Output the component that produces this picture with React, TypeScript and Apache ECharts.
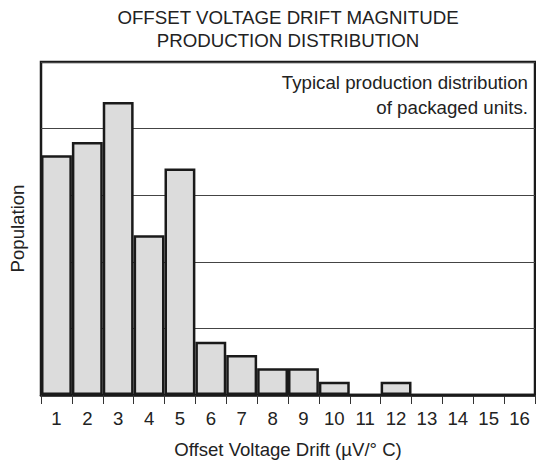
import React, { useEffect, useRef } from "react";
import * as echarts from "echarts";

const categories = ["1", "2", "3", "4", "5", "6", "7", "8", "9", "10", "11", "12", "13", "14", "15", "16"];
const population = [3.6, 3.8, 4.4, 2.4, 3.4, 0.8, 0.6, 0.4, 0.4, 0.2, 0, 0.2, 0, 0, 0, 0];
const titleLines = ["OFFSET VOLTAGE DRIFT MAGNITUDE", "PRODUCTION DISTRIBUTION"];
const noteLines = ["Typical production distribution", "of packaged units."];
const xName = "Offset Voltage Drift (µV/° C)";
const yName = "Population";

const FONT = "'Liberation Sans', Arial, Helvetica, sans-serif";
const TXT = "#222";
const FS = 18.7;

export default function App() {
  const ref = useRef<HTMLDivElement>(null);
  useEffect(() => {
    if (!ref.current) return;
    const chart = echarts.init(ref.current, null, { renderer: "svg" });
    const txt = (text: string, x: number, y: number, align: string) => ({
      type: "text",
      x,
      y,
      style: {
        text,
        fontSize: FS,
        fontFamily: FONT,
        fill: TXT,
        textAlign: align,
        textVerticalAlign: "middle",
      },
    });
    chart.setOption({
      animation: false,
      backgroundColor: "#fff",
      textStyle: { fontFamily: FONT },
      grid: {
        left: 40,
        right: 1,
        top: 62,
        bottom: 65,
        show: true,
        borderColor: "#1a1a1a",
        borderWidth: 2.5,
        backgroundColor: "transparent",
      },
      xAxis: {
        type: "category",
        data: categories,
        boundaryGap: true,
        name: xName,
        nameLocation: "middle",
        nameGap: 45,
        nameTextStyle: { fontSize: 18.6, color: TXT, fontFamily: FONT },
        axisLine: { show: true, lineStyle: { color: "#1a1a1a", width: 2.5 } },
        axisTick: { show: true, length: 9, lineStyle: { color: "#333", width: 1 } },
        axisLabel: { fontSize: 18.6, color: TXT, margin: 14, fontFamily: FONT, interval: 0 },
        splitLine: { show: false },
      },
      yAxis: {
        type: "value",
        min: 0,
        max: 5,
        interval: 1,
        name: yName,
        nameLocation: "middle",
        nameGap: 14,
        nameTextStyle: { fontSize: 18.6, color: TXT, fontFamily: FONT },
        axisLine: { show: false },
        axisTick: { show: false },
        axisLabel: { show: false },
        splitLine: { show: true, lineStyle: { color: "#444", width: 1 } },
      },
      series: [
        {
          type: "bar",
          data: population,
          barCategoryGap: "0%",
          itemStyle: { color: "#dcdcdc", borderColor: "#1a1a1a", borderWidth: 2.5 },
        },
      ],
      graphic: [
        txt(titleLines[0], 288, 17, "center"),
        txt(titleLines[1], 288, 40, "center"),
        txt(noteLines[0], 528, 82, "right"),
        txt(noteLines[1], 528, 107, "right"),
      ],
    });
    return () => chart.dispose();
  }, []);
  return (
    <div
      ref={ref}
      style={{ position: "fixed", left: 0, top: 0, width: 536, height: 464, background: "#fff" }}
    />
  );
}
